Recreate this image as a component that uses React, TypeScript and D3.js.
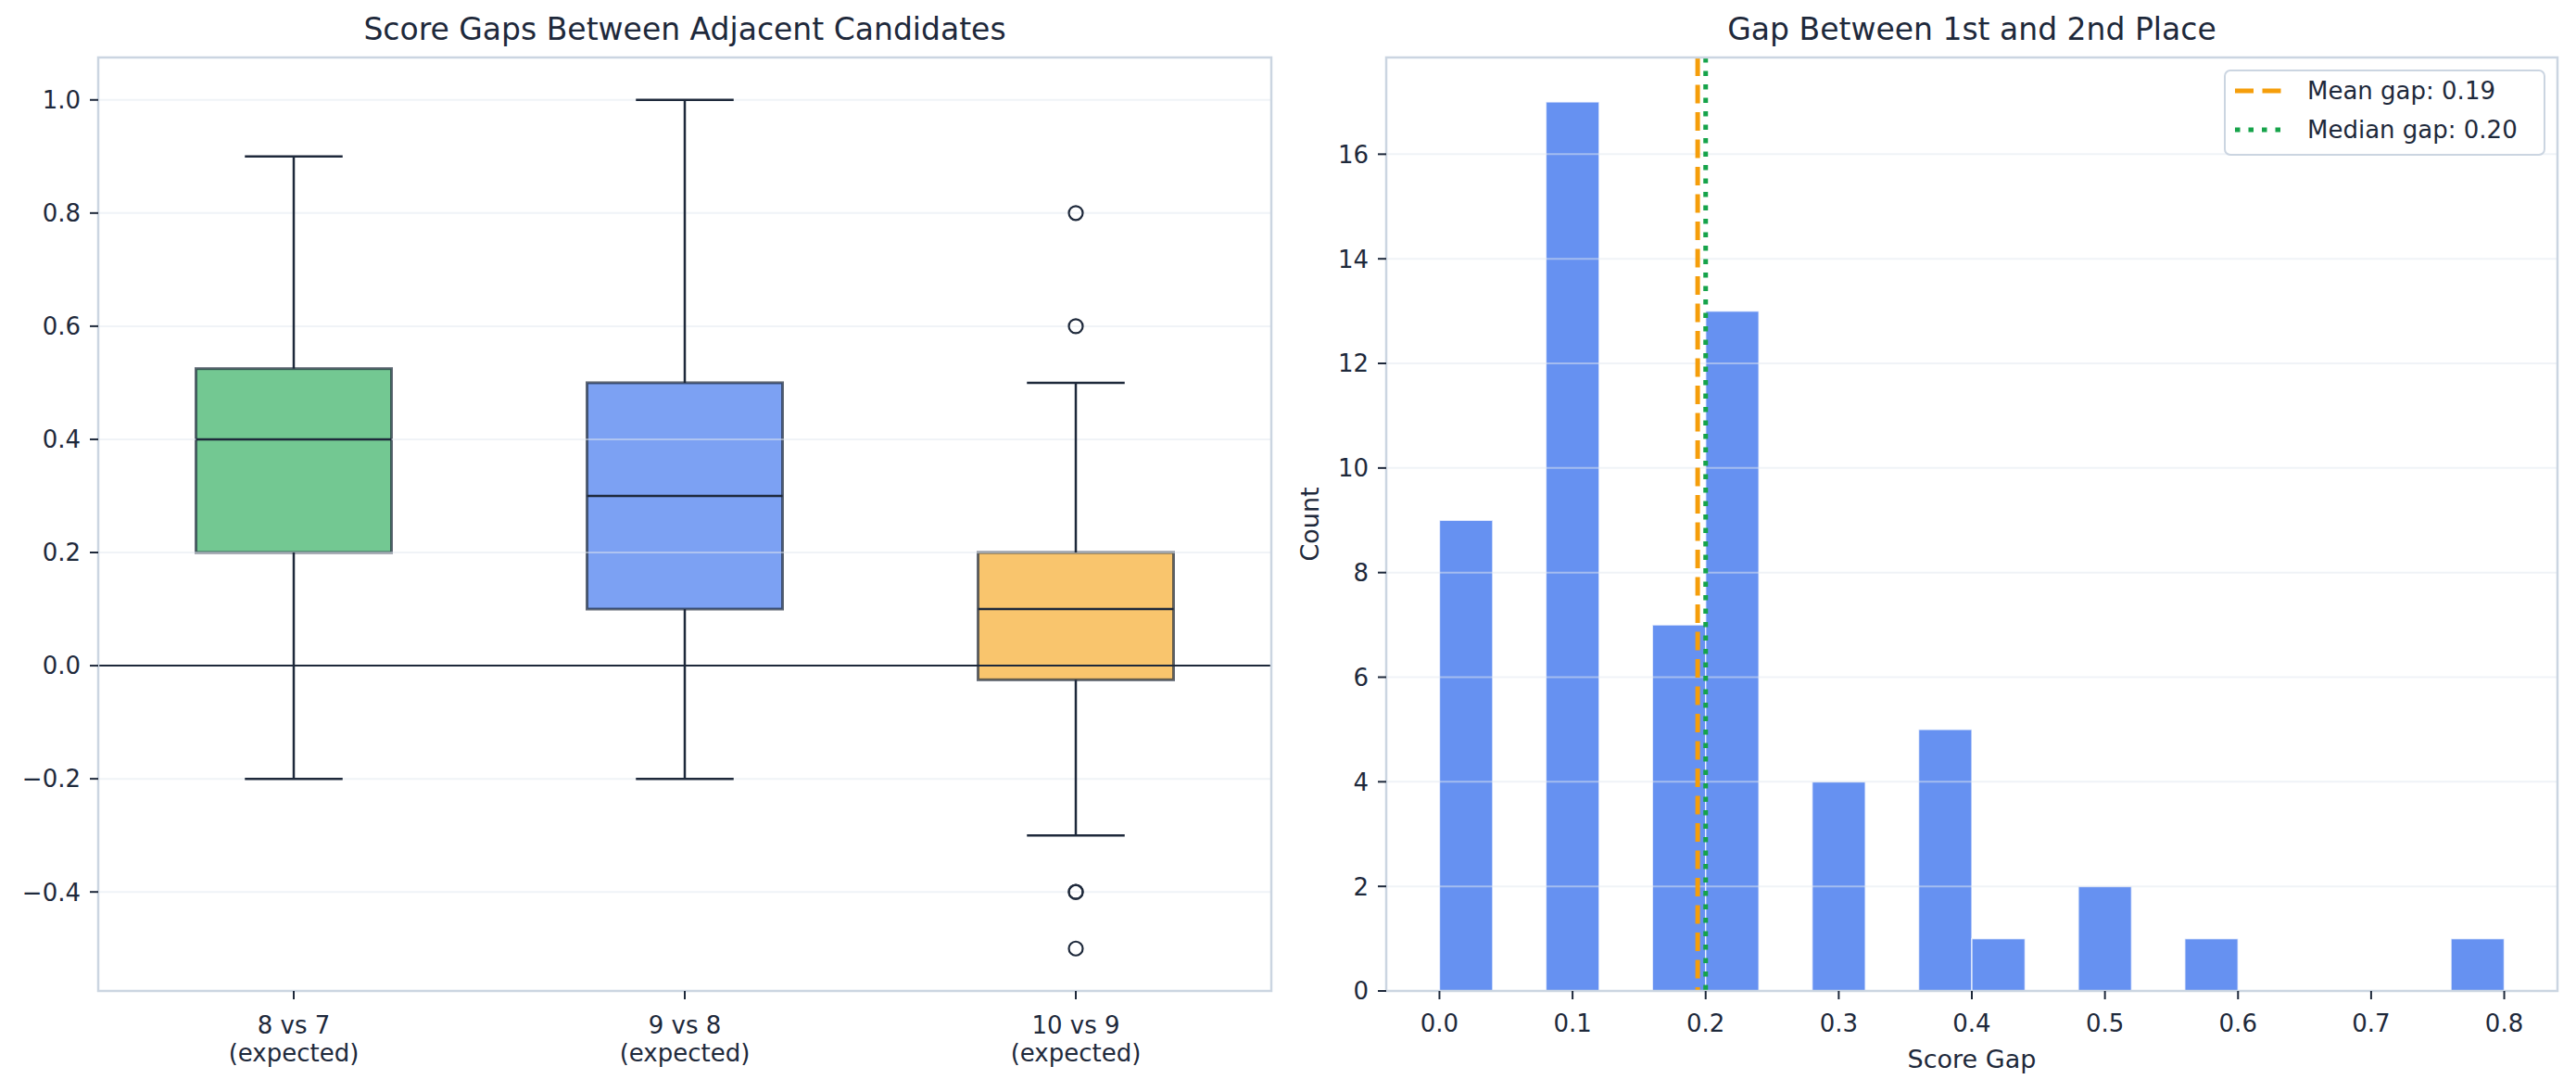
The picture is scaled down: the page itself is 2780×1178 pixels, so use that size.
import React from 'react';
import * as d3 from 'd3';

// left panel: score gaps between adjacent candidates (box stats per pair)
const pairLabels = ['8 vs 7', '9 vs 8', '10 vs 9'];
const pairNotes = ['(expected)', '(expected)', '(expected)'];
const q1s = [0.2, 0.1, -0.025];
const medians = [0.4, 0.3, 0.1];
const q3s = [0.525, 0.5, 0.2];
const whiskerLow = [-0.2, -0.2, -0.3];
const whiskerHigh = [0.9, 1.0, 0.5];
const fliers = [[], [], [0.8, 0.6, -0.4, -0.4, -0.5]];
const boxColors = ['#16a34a', '#2563eb', '#f59e0b'];
const leftTicks = [-0.4, -0.2, 0.0, 0.2, 0.4, 0.6, 0.8, 1.0];

// right panel: histogram of the gap between 1st and 2nd place
const binStart = 0;
const binWidth = 0.04;
const gapCounts = [9, 0, 17, 0, 7, 13, 0, 4, 0, 5, 1, 0, 2, 0, 1, 0, 0, 0, 0, 1];
const meanGap = 0.194;
const medianGap = 0.2;
const rightXTicks = [0, 0.1, 0.2, 0.3, 0.4, 0.5, 0.6, 0.7, 0.8];
const rightYTicks = [0, 2, 4, 6, 8, 10, 12, 14, 16];

const W = 2780;
const H = 1178;
const INK = '#1e293b';
const SPINE = '#cbd5e1';
const GRID = '#e2e8f0';
const FONT = 'DejaVu Sans, sans-serif';
const TICK_FS = 26;
const TITLE_FS = 33;
const LABEL_FS = 27;

const fmtMinus = (v: number, d: number) => {
  const s = Math.abs(v).toFixed(d);
  return v < -1e-9 ? '\u2212' + s : s;
};

function Frame({x0, x1, y0, y1}: {x0: number; x1: number; y0: number; y1: number}) {
  return (
    <rect x={x0} y={y0} width={x1 - x0} height={y1 - y0} fill="none" stroke={SPINE} strokeWidth={2.5} />
  );
}

function BoxPanel() {
  const left = 106, right = 1372, top = 62, bottom = 1069;
  const x = d3.scaleLinear().domain([0.5, 3.5]).range([left, right]);
  const y = d3.scaleLinear().domain([-0.575, 1.075]).range([bottom, top]);
  const half = 0.25;
  const cap = 0.125;

  return (
    <g>
      <text x={(left + right) / 2} y={43} textAnchor="middle" fontSize={TITLE_FS} fill={INK}>
        Score Gaps Between Adjacent Candidates
      </text>
      {pairLabels.map((lab, i) => (
        <rect
          key={lab}
          x={x(i + 1 - half)}
          y={y(q3s[i])}
          width={x(i + 1 + half) - x(i + 1 - half)}
          height={y(q1s[i]) - y(q3s[i])}
          fill={boxColors[i]}
          fillOpacity={0.6}
          stroke={INK}
          strokeOpacity={0.7}
          strokeWidth={3}
        />
      ))}
      {/* grid sits above the box patches, below the lines */}
      {leftTicks.map(t => (
        <line key={t} x1={left} x2={right} y1={y(t)} y2={y(t)} stroke={GRID} strokeOpacity={0.5} strokeWidth={2} />
      ))}
      {pairLabels.map((lab, i) => {
        const cx = x(i + 1);
        return (
          <g key={lab + '-lines'} stroke={INK} strokeWidth={2.5} fill="none">
            <line x1={cx} x2={cx} y1={y(q1s[i])} y2={y(whiskerLow[i])} />
            <line x1={cx} x2={cx} y1={y(q3s[i])} y2={y(whiskerHigh[i])} />
            <line x1={x(i + 1 - cap)} x2={x(i + 1 + cap)} y1={y(whiskerLow[i])} y2={y(whiskerLow[i])} />
            <line x1={x(i + 1 - cap)} x2={x(i + 1 + cap)} y1={y(whiskerHigh[i])} y2={y(whiskerHigh[i])} />
            <line x1={x(i + 1 - half)} x2={x(i + 1 + half)} y1={y(medians[i])} y2={y(medians[i])} />
            {fliers[i].map((f, j) => (
              <circle key={j} cx={cx} cy={y(f)} r={7.5} strokeWidth={2.2} />
            ))}
          </g>
        );
      })}
      <line x1={left} x2={right} y1={y(0)} y2={y(0)} stroke={INK} strokeWidth={2} />
      <Frame x0={left} x1={right} y0={top} y1={bottom} />
      {leftTicks.map(t => (
        <g key={'yt' + t}>
          <line x1={left - 9} x2={left} y1={y(t)} y2={y(t)} stroke={INK} strokeWidth={2} />
          <text x={left - 19} y={y(t)} dy="0.36em" textAnchor="end" fontSize={TICK_FS} fill={INK}>
            {fmtMinus(t, 1)}
          </text>
        </g>
      ))}
      {pairLabels.map((lab, i) => (
        <g key={'xt' + lab}>
          <line x1={x(i + 1)} x2={x(i + 1)} y1={bottom} y2={bottom + 9} stroke={INK} strokeWidth={2} />
          <text x={x(i + 1)} y={1115} textAnchor="middle" fontSize={TICK_FS} fill={INK}>{lab}</text>
          <text x={x(i + 1)} y={1145} textAnchor="middle" fontSize={TICK_FS} fill={INK}>{pairNotes[i]}</text>
        </g>
      ))}
    </g>
  );
}

function HistPanel() {
  const left = 1496, right = 2760, top = 62, bottom = 1069;
  const x = d3.scaleLinear().domain([-0.04, 0.84]).range([left, right]);
  const y = d3.scaleLinear().domain([0, 17.85]).range([bottom, top]);
  const bins = gapCounts.map((c, i) => ({x0: binStart + i * binWidth, x1: binStart + (i + 1) * binWidth, c}));

  return (
    <g>
      <text x={(left + right) / 2} y={43} textAnchor="middle" fontSize={TITLE_FS} fill={INK}>
        Gap Between 1st and 2nd Place
      </text>
      {bins.filter(b => b.c > 0).map(b => (
        <rect
          key={b.x0}
          x={x(b.x0)}
          y={y(b.c)}
          width={x(b.x1) - x(b.x0)}
          height={y(0) - y(b.c)}
          fill="#2563eb"
          fillOpacity={0.7}
          stroke="#ffffff"
          strokeOpacity={0.7}
          strokeWidth={1.5}
        />
      ))}
      {rightYTicks.map(t => (
        <line key={t} x1={left} x2={right} y1={y(t)} y2={y(t)} stroke={GRID} strokeOpacity={0.5} strokeWidth={2} />
      ))}
      <line x1={x(meanGap)} x2={x(meanGap)} y1={top} y2={bottom} stroke="#f59e0b" strokeWidth={5} strokeDasharray="20 9.5" />
      <line x1={x(medianGap)} x2={x(medianGap)} y1={top} y2={bottom} stroke="#16a34a" strokeWidth={5} strokeDasharray="5.5 9" />
      <Frame x0={left} x1={right} y0={top} y1={bottom} />
      {rightYTicks.map(t => (
        <g key={'yt' + t}>
          <line x1={left - 9} x2={left} y1={y(t)} y2={y(t)} stroke={INK} strokeWidth={2} />
          <text x={left - 19} y={y(t)} dy="0.36em" textAnchor="end" fontSize={TICK_FS} fill={INK}>{t}</text>
        </g>
      ))}
      {rightXTicks.map(t => (
        <g key={'xt' + t}>
          <line x1={x(t)} x2={x(t)} y1={bottom} y2={bottom + 9} stroke={INK} strokeWidth={2} />
          <text x={x(t)} y={1113} textAnchor="middle" fontSize={TICK_FS} fill={INK}>{t.toFixed(1)}</text>
        </g>
      ))}
      <text x={(left + right) / 2} y={1152} textAnchor="middle" fontSize={LABEL_FS} fill={INK}>Score Gap</text>
      <text
        transform={`translate(1413,${(top + bottom) / 2}) rotate(-90)`}
        dy="0.36em"
        textAnchor="middle"
        fontSize={LABEL_FS}
        fill={INK}
      >
        Count
      </text>
      {/* legend */}
      <g>
        <rect x={2401} y={76} width={345} height={91} rx={6} fill="#ffffff" fillOpacity={0.85} stroke={SPINE} strokeWidth={2} />
        <line x1={2412} x2={2462} y1={98} y2={98} stroke="#f59e0b" strokeWidth={5} strokeDasharray="20 9.5" />
        <text x={2490} y={98} dy="0.36em" fontSize={TICK_FS} fill={INK}>{`Mean gap: ${meanGap.toFixed(2)}`}</text>
        <line x1={2412} x2={2462} y1={140} y2={140} stroke="#16a34a" strokeWidth={5} strokeDasharray="5.5 9" />
        <text x={2490} y={140} dy="0.36em" fontSize={TICK_FS} fill={INK}>{`Median gap: ${medianGap.toFixed(2)}`}</text>
      </g>
    </g>
  );
}

export default function App() {
  return (
    <svg
      width={W}
      height={H}
      viewBox={`0 0 ${W} ${H}`}
      style={{position: 'absolute', left: 0, top: 0, background: '#ffffff'}}
      fontFamily={FONT}
    >
      <rect width={W} height={H} fill="#ffffff" />
      <BoxPanel />
      <HistPanel />
    </svg>
  );
}
